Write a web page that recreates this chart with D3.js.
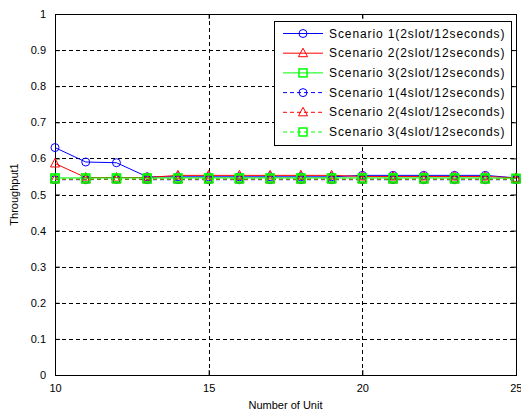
<!DOCTYPE html>
<html>
<head>
<meta charset="utf-8">
<script src="https://cdn.jsdelivr.net/npm/d3@7"></script>
<style>
  html, body { margin: 0; padding: 0; background: #fff; }
  svg { display: block; }
  text { font-family: "Liberation Sans", Arial, sans-serif; fill: #000; }
</style>
</head>
<body>
<svg id="chart" width="521" height="413"></svg>
<script>
// Number of units on the x axis
const units = [10, 11, 12, 13, 14, 15, 16, 17, 18, 19, 20, 21, 22, 23, 24, 25];

// Throughput per scenario
const s1Slot2 = [0.630, 0.590, 0.588, 0.549, 0.549, 0.549, 0.549, 0.549, 0.549, 0.549, 0.553, 0.553, 0.553, 0.553, 0.553, 0.546];
const s2Slot2 = [0.586, 0.547, 0.547, 0.547, 0.553, 0.553, 0.553, 0.553, 0.553, 0.553, 0.550, 0.550, 0.550, 0.550, 0.550, 0.546];
const s3Slot2 = [0.546, 0.546, 0.546, 0.546, 0.546, 0.546, 0.546, 0.546, 0.546, 0.546, 0.546, 0.546, 0.546, 0.546, 0.546, 0.545];
const s1Slot4 = [0.541, 0.541, 0.542, 0.541, 0.541, 0.541, 0.541, 0.541, 0.541, 0.541, 0.541, 0.541, 0.541, 0.541, 0.541, 0.541];
const s2Slot4 = [0.542, 0.542, 0.542, 0.542, 0.542, 0.542, 0.542, 0.542, 0.542, 0.542, 0.542, 0.542, 0.542, 0.542, 0.542, 0.542];
const s3Slot4 = [0.543, 0.543, 0.543, 0.543, 0.543, 0.543, 0.543, 0.543, 0.543, 0.543, 0.543, 0.543, 0.543, 0.543, 0.543, 0.543];

const seriesNames = [
  "Scenario 1(2slot/12seconds)",
  "Scenario 2(2slot/12seconds)",
  "Scenario 3(2slot/12seconds)",
  "Scenario 1(4slot/12seconds)",
  "Scenario 2(4slot/12seconds)",
  "Scenario 3(4slot/12seconds)"
];

const xTicks = [10, 15, 20, 25];
const yTicks = [0, 0.1, 0.2, 0.3, 0.4, 0.5, 0.6, 0.7, 0.8, 0.9, 1];

const series = [
  { name: seriesNames[0], values: s1Slot2, color: "#0000ff", dash: null, marker: "circle" },
  { name: seriesNames[1], values: s2Slot2, color: "#ff0000", dash: null, marker: "triangle" },
  { name: seriesNames[2], values: s3Slot2, color: "#00ff00", dash: null, marker: "square" },
  { name: seriesNames[3], values: s1Slot4, color: "#0000ff", dash: "4,3", marker: "circle" },
  { name: seriesNames[4], values: s2Slot4, color: "#ff0000", dash: "4,3", marker: "triangle" },
  { name: seriesNames[5], values: s3Slot4, color: "#00ff00", dash: "4,3", marker: "square" }
];

const svg = d3.select("#chart");
const margin = { left: 55, right: 5, top: 14, bottom: 38 };
const W = 521, H = 413;
const x = d3.scaleLinear().domain([10, 25]).range([margin.left, W - margin.right]);
const y = d3.scaleLinear().domain([0, 1]).range([H - margin.bottom, margin.top]);

const x0 = x.range()[0], x1 = x.range()[1];
const y0 = y.range()[0], y1 = y.range()[1];

// Dashed grid
const grid = svg.append("g");
grid.selectAll("line.gx").data(xTicks.slice(1, -1)).join("line")
  .attr("x1", d => Math.round(x(d)) + 0.5).attr("x2", d => Math.round(x(d)) + 0.5)
  .attr("y1", y1).attr("y2", y0)
  .attr("stroke", "#000").attr("stroke-width", 1).attr("stroke-dasharray", "4,3");
grid.selectAll("line.gy").data(yTicks.slice(1, -1)).join("line")
  .attr("x1", x0).attr("x2", x1)
  .attr("y1", d => Math.round(y(d)) + 0.5).attr("y2", d => Math.round(y(d)) + 0.5)
  .attr("stroke", "#000").attr("stroke-width", 1).attr("stroke-dasharray", "4,3");

// Axes with inward ticks on all four sides
const axisStyle = g => {
  g.select(".domain").remove();
  g.selectAll("text").style("font-family", '"Liberation Sans", Arial, sans-serif').style("font-size", "11px").attr("fill", "#000");
  g.selectAll(".tick line").attr("stroke", "#000");
};
const bottomAxis = svg.append("g").attr("transform", `translate(0,${y0})`)
  .call(d3.axisBottom(x).tickValues(xTicks).tickFormat(d3.format("d")).tickSizeInner(-5).tickSizeOuter(0).tickPadding(9))
  .call(axisStyle);
// keep the last label inside the page edge
bottomAxis.selectAll(".tick").filter(d => d === 25).select("text")
  .attr("text-anchor", "end").attr("dx", "6");
svg.append("g").attr("transform", `translate(0,${y1})`)
  .call(d3.axisTop(x).tickValues(xTicks).tickFormat("").tickSizeInner(-5).tickSizeOuter(0))
  .call(axisStyle);
svg.append("g").attr("transform", `translate(${x0},0)`)
  .call(d3.axisLeft(y).tickValues(yTicks).tickFormat(d => d === 0 || d === 1 ? d3.format("d")(d) : d3.format(".1f")(d)).tickSizeInner(-5).tickSizeOuter(0).tickPadding(9))
  .call(axisStyle);
svg.append("g").attr("transform", `translate(${x1},0)`)
  .call(d3.axisRight(y).tickValues(yTicks).tickFormat("").tickSizeInner(-5).tickSizeOuter(0))
  .call(axisStyle);

// Box
svg.append("rect").attr("x", x0 + 0.5).attr("y", y1 + 0.5)
  .attr("width", x1 - x0).attr("height", y0 - y1)
  .attr("fill", "none").attr("stroke", "#000").attr("stroke-width", 1);

// Marker shapes
function drawMarker(g, type, cx, cy, color) {
  if (type === "circle") {
    g.append("circle").attr("cx", cx).attr("cy", cy).attr("r", 4)
      .attr("fill", "none").attr("stroke", color).attr("stroke-width", 1);
  } else if (type === "triangle") {
    g.append("path").attr("d", `M${cx},${cy - 5}L${cx + 4.5},${cy + 3.5}L${cx - 4.5},${cy + 3.5}Z`)
      .attr("fill", "none").attr("stroke", color).attr("stroke-width", 1);
  } else {
    g.append("rect").attr("x", cx - 4).attr("y", cy - 4).attr("width", 8).attr("height", 8)
      .attr("fill", "none").attr("stroke", color).attr("stroke-width", 1.5);
  }
}

const line = d3.line().x((d, i) => x(units[i])).y(d => y(d));
const plot = svg.append("g");
series.forEach(s => {
  const g = plot.append("g");
  g.append("path").attr("d", line(s.values))
    .attr("fill", "none").attr("stroke", s.color).attr("stroke-width", 1)
    .attr("stroke-dasharray", s.dash);
  s.values.forEach((v, i) => drawMarker(g, s.marker, x(units[i]), y(v), s.color));
});

// Axis titles
svg.append("text").attr("x", (x0 + x1) / 2).attr("y", 409)
  .attr("text-anchor", "middle").style("font-size", "11px").text("Number of Unit");
svg.append("text").attr("transform", `translate(18,${(y0 + y1) / 2}) rotate(-90)`)
  .attr("text-anchor", "middle").style("font-size", "11px").text("Throughput1");

// Legend
const lg = svg.append("g");
const lx = 274, ly = 21, lw = 237, lh = 124, rowH = 19.7;
lg.append("rect").attr("x", lx + 0.5).attr("y", ly + 0.5).attr("width", lw).attr("height", lh)
  .attr("fill", "#fff").attr("stroke", "#000").attr("stroke-width", 1);
series.forEach((s, i) => {
  const cy = ly + 12.5 + i * rowH;
  lg.append("line").attr("x1", lx + 9).attr("x2", lx + 49).attr("y1", cy).attr("y2", cy)
    .attr("stroke", s.color).attr("stroke-width", 1).attr("stroke-dasharray", s.dash);
  drawMarker(lg, s.marker, lx + 29, cy, s.color);
  lg.append("text").attr("x", lx + 55).attr("y", cy + 4)
    .style("font-size", "12px").style("letter-spacing", "0.9px").text(s.name);
});
</script>
</body>
</html>
